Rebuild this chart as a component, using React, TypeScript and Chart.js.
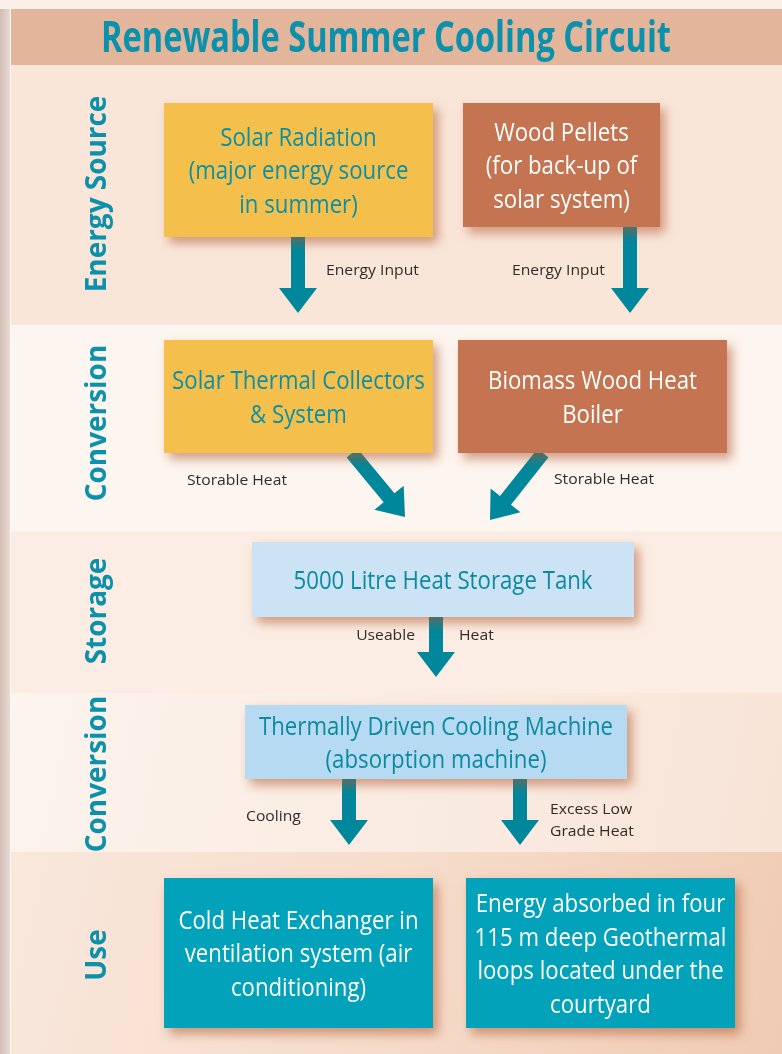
import React, { useEffect, useRef } from "react";
import { Chart, registerables } from "chart.js";

Chart.register(...registerables);

// ---------- content ----------
const TITLE = "Renewable Summer Cooling Circuit";
const stageLabels = ["Energy Source", "Conversion", "Storage", "Conversion", "Use"];
const nodeLabels: string[][] = [
  ["Solar Radiation", "(major energy source", "in summer)"],
  ["Wood Pellets", "(for back-up of", "solar system)"],
  ["Solar Thermal Collectors", "& System"],
  ["Biomass Wood Heat", "Boiler"],
  ["5000 Litre Heat Storage Tank"],
  ["Thermally Driven Cooling Machine", "(absorption machine)"],
  ["Cold Heat Exchanger in", "ventilation system (air", "conditioning)"],
  ["Energy absorbed in four", "115 m deep Geothermal", "loops located under the", "courtyard"],
];
const flowLabels: string[][] = [
  ["Energy Input"],
  ["Energy Input"],
  ["Storable Heat"],
  ["Storable Heat"],
  ["Useable"],
  ["Heat"],
  ["Cooling"],
  ["Excess Low", "Grade Heat"],
];

// ---------- layout (chart data units = page pixels) ----------
const W = 782;
const H = 1054;
const TITLE_BAND = [9, 65];
const STAGE_BANDS = [
  [65, 325],
  [325, 531],
  [531, 693],
  [693, 852],
  [852, 1054],
];
const STAGE_FILLS = ["#f9e6d9", "#fdf5ef", "#fbede3", "#fbf0e8", "#f6dfcf"];
const STAGE_LABEL_Y = [194, 423, 611, 774, 955];
const STAGE_LABEL_X = 106;
const NODE_RECTS = [
  [164, 103, 433, 237],
  [463, 103, 660, 227],
  [164, 340, 433, 453],
  [458, 340, 727, 453],
  [252, 542, 634, 617],
  [245, 705, 627, 779],
  [164, 878, 433, 1028],
  [466, 878, 735, 1028],
];
const NODE_FILL = ["#f5bf4b", "#c47451", "#f5bf4b", "#c47451", "#cbe3f5", "#b6daf2", "#03a2bb", "#03a2bb"];
const NODE_TEXT = ["#0b8fa6", "#ffffff", "#0b8fa6", "#ffffff", "#0b8a9f", "#0b8a9f", "#ffffff", "#ffffff"];
const ARROWS = [
  [298, 237, 298, 313],
  [630, 227, 630, 313],
  [352, 453, 405, 517],
  [543, 453, 490, 520],
  [436, 617, 436, 677],
  [349, 779, 349, 845],
  [520, 779, 520, 845],
];
const FLOW_POS: [number, number, CanvasTextAlign][] = [
  [326, 271, "left"],
  [512, 271, "left"],
  [187, 481, "left"],
  [554, 480, "left"],
  [415, 636, "right"],
  [459, 636, "left"],
  [246, 817, "left"],
  [550, 810, "left"],
];

const TEAL = "#0b91ab";
const ARROW = "#00879b";

const F_TITLE = 'bold 43px "Open Sans", sans-serif';
const F_STAGE = 'bold 28px "Open Sans", sans-serif';
const F_NODE = '500 26px "Open Sans", sans-serif';
const F_FLOW = '15px "Open Sans", sans-serif';

function fitScale(ctx: CanvasRenderingContext2D, font: string, ref: string, target: number) {
  ctx.save();
  ctx.font = font;
  const w = ctx.measureText(ref).width;
  ctx.restore();
  return w > 0 ? target / w : 1;
}

function drawText(
  ctx: CanvasRenderingContext2D,
  text: string,
  x: number,
  y: number,
  font: string,
  sx: number,
  align: CanvasTextAlign,
  color: string,
  baseline: CanvasTextBaseline = "middle"
) {
  ctx.save();
  ctx.font = font;
  ctx.fillStyle = color;
  ctx.textAlign = align;
  ctx.textBaseline = baseline;
  ctx.translate(x, y);
  ctx.scale(sx, 1);
  ctx.fillText(text, 0, 0);
  ctx.restore();
}

const flowPlugin = {
  id: "flowPlugin",
  beforeDraw(chart: any) {
    const ctx: CanvasRenderingContext2D = chart.ctx;
    const xs = chart.scales.x;
    const ys = chart.scales.y;
    const px = (v: number) => xs.getPixelForValue(v);
    const py = (v: number) => ys.getPixelForValue(v);

    // page background
    ctx.save();
    ctx.fillStyle = "#fbefe8";
    ctx.fillRect(px(0), py(0), px(W) - px(0), py(H) - py(0));

    // stage bands
    STAGE_BANDS.forEach(([a, b], i) => {
      if (i >= 3) {
        const g = ctx.createLinearGradient(px(0), py(a), px(W), py(b));
        if (i === 3) {
          g.addColorStop(0, "#fcf4ee");
          g.addColorStop(1, "#f8e4d7");
        } else {
          g.addColorStop(0, "#f9e8dd");
          g.addColorStop(0.5, "#f6dccb");
          g.addColorStop(1, "#f0cbb3");
        }
        ctx.fillStyle = g;
      } else {
        ctx.fillStyle = STAGE_FILLS[i];
      }
      ctx.fillRect(px(11), py(a), px(W) - px(11), py(b) - py(a));
    });

    // title band
    ctx.fillStyle = "#e3b69c";
    ctx.fillRect(px(11), py(TITLE_BAND[0]), px(W) - px(11), py(TITLE_BAND[1]) - py(TITLE_BAND[0]));

    // left page edge
    const lg = ctx.createLinearGradient(px(0), 0, px(10), 0);
    lg.addColorStop(0, "#d2bcb3");
    lg.addColorStop(1, "#e9dad3");
    ctx.fillStyle = lg;
    ctx.fillRect(px(0), py(TITLE_BAND[0]), px(10) - px(0), py(H) - py(TITLE_BAND[0]));
    ctx.fillStyle = "#fffaf6";
    ctx.fillRect(px(10), py(TITLE_BAND[0]), 1, py(H) - py(TITLE_BAND[0]));
    ctx.restore();

    // title
    const sT = fitScale(ctx, F_TITLE, TITLE, 570);
    drawText(ctx, TITLE, px(386), py(52), F_TITLE, sT, "center", TEAL, "alphabetic");

    // stage labels (rotated)
    const sS = fitScale(ctx, F_STAGE, "Energy SourceConversion", 353);
    stageLabels.forEach((lab, i) => {
      ctx.save();
      ctx.translate(px(STAGE_LABEL_X), py(STAGE_LABEL_Y[i]));
      ctx.rotate(-Math.PI / 2);
      ctx.font = F_STAGE;
      ctx.fillStyle = TEAL;
      ctx.textAlign = "center";
      ctx.textBaseline = "alphabetic";
      ctx.scale(sS, 1);
      ctx.fillText(lab, 0, 0);
      ctx.restore();
    });

    // arrows
    ctx.save();
    ctx.fillStyle = ARROW;
    ARROWS.forEach(([x1, y1, x2, y2]) => {
      const ax = px(x1), ay = py(y1), bx = px(x2), by = py(y2);
      const dx = bx - ax, dy = by - ay;
      const len = Math.hypot(dx, dy);
      const ux = dx / len, uy = dy / len;
      const nx = -uy, ny = ux;
      const sw = 7, hw = 19, hl = 25;
      const cx = bx - ux * hl, cy = by - uy * hl;
      ctx.beginPath();
      ctx.moveTo(ax + nx * sw, ay + ny * sw);
      ctx.lineTo(cx + nx * sw, cy + ny * sw);
      ctx.lineTo(cx + nx * hw, cy + ny * hw);
      ctx.lineTo(bx, by);
      ctx.lineTo(cx - nx * hw, cy - ny * hw);
      ctx.lineTo(cx - nx * sw, cy - ny * sw);
      ctx.lineTo(ax - nx * sw, ay - ny * sw);
      ctx.closePath();
      ctx.fill();
    });
    ctx.restore();

    // nodes
    const sN = fitScale(ctx, F_NODE, "Thermally Driven Cooling Machine", 354);
    nodeLabels.forEach((lines, i) => {
      const [x1, y1, x2, y2] = NODE_RECTS[i];
      const l = px(x1), t = py(y1), r = px(x2), b = py(y2);
      ctx.save();
      ctx.shadowColor = "rgba(175, 85, 45, 0.55)";
      ctx.shadowBlur = 10;
      ctx.shadowOffsetX = 5;
      ctx.shadowOffsetY = 6;
      ctx.fillStyle = NODE_FILL[i];
      ctx.fillRect(l, t, r - l, b - t);
      ctx.restore();
      const cx = (l + r) / 2;
      const cy = (t + b) / 2 + 2;
      const lh = 33.5;
      lines.forEach((ln, k) => {
        const y = cy + (k - (lines.length - 1) / 2) * lh;
        drawText(ctx, ln, cx, y, F_NODE, sN, "center", NODE_TEXT[i]);
      });
    });

    // flow labels
    const sF = fitScale(ctx, F_FLOW, "Storable Heat", 100);
    flowLabels.forEach((lines, i) => {
      const [x, y, align] = FLOW_POS[i];
      lines.forEach((ln, k) => {
        drawText(ctx, ln, px(x), py(y + k * 22), F_FLOW, sF, align, "#352b28");
      });
    });
  },
};

export default function App() {
  const ref = useRef<HTMLCanvasElement | null>(null);
  useEffect(() => {
    let chart: Chart | null = null;
    let cancelled = false;
    const make = () => {
      if (cancelled || !ref.current) return;
      chart = new Chart(ref.current, {
        type: "scatter",
        data: { datasets: [] },
        options: {
          animation: false,
          responsive: false,
          devicePixelRatio: 1,
          events: [],
          layout: { padding: 0 },
          plugins: { legend: { display: false }, tooltip: { enabled: false } },
          scales: {
            x: { type: "linear", min: 0, max: W, display: false },
            y: { type: "linear", min: 0, max: H, reverse: true, display: false },
          },
        },
        plugins: [flowPlugin],
      } as any);
    };
    const fonts = (document as any).fonts;
    if (fonts && fonts.load) {
      Promise.all([fonts.load(F_TITLE), fonts.load(F_NODE), fonts.load(F_FLOW), fonts.load(F_STAGE)])
        .catch(() => null)
        .then(make);
    } else {
      make();
    }
    return () => {
      cancelled = true;
      if (chart) chart.destroy();
    };
  }, []);
  return (
    <div style={{ position: "absolute", left: 0, top: 0, width: W, height: H }}>
      <canvas ref={ref} width={W} height={H} style={{ width: W, height: H, display: "block" }} />
    </div>
  );
}
